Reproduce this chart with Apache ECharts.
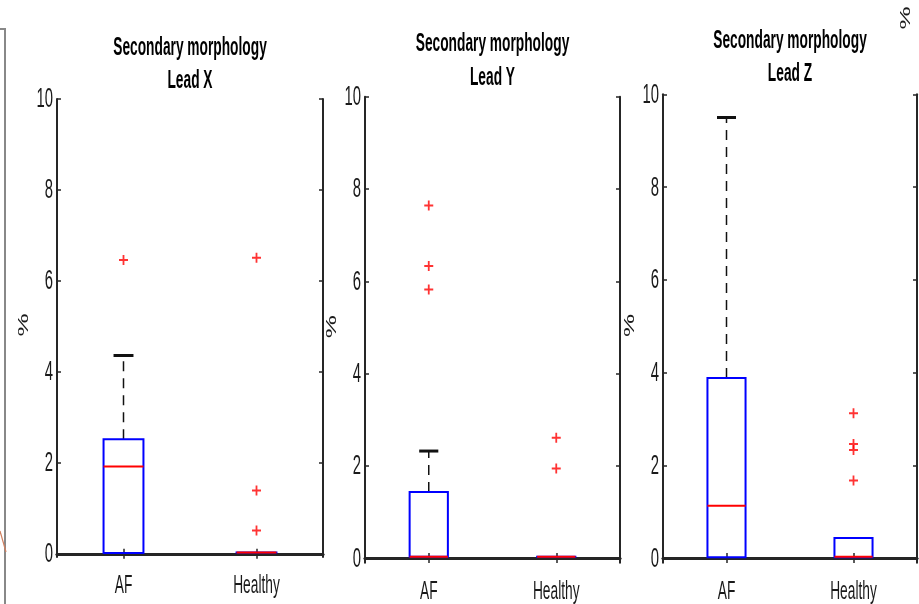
<!DOCTYPE html>
<html><head><meta charset="utf-8">
<script src="https://cdn.jsdelivr.net/npm/echarts@6/dist/echarts.min.js"></script>
<style>html,body{margin:0;padding:0;background:#fff}#c{width:919px;height:604px}</style>
</head><body><div id="c"></div>
<script>
// ---------------- data ----------------
const categories = ['AF', 'Healthy'];
const yTicks = [0, 2, 4, 6, 8, 10];
const titleLine1 = 'Secondary morphology';
const leadNames = ['Lead X', 'Lead Y', 'Lead Z'];
const yLabel = '%';
// box stats: [lower whisker, q1, median, q3, upper whisker]
const leadX_AF = [0, 0.02, 1.92, 2.52, 4.36];
const leadX_Healthy = [0.03, 0.03, 0.03, 0.03, 0.03];
const leadX_AF_outliers = [6.46];
const leadX_Healthy_outliers = [6.51, 1.39, 0.51];
const leadY_AF = [0, 0.03, 0.03, 1.43, 2.32];
const leadY_Healthy = [0.03, 0.03, 0.03, 0.03, 0.03];
const leadY_AF_outliers = [7.64, 6.33, 5.82];
const leadY_Healthy_outliers = [2.61, 1.94];
const leadZ_AF = [0, 0.02, 1.13, 3.88, 9.5];
const leadZ_Healthy = [0, 0.02, 0.03, 0.43, 0.43];
const leadZ_AF_outliers = [];
const leadZ_Healthy_outliers = [3.12, 2.46, 2.33, 1.67];
const yMins = [-0.07, -0.1, -0.1];
const yMax = 10;

// ---------------- layout / style ----------------
const grids = [
  {left: 57, top: 99, width: 266, height: 458},
  {left: 365, top: 96.7, width: 255, height: 466},
  {left: 663, top: 94.3, width: 254, height: 468.4}
];
const titleY = [[47, 80], [43, 77], [40, 73]];
const frame = '#262626';
const textCol = '#1a1a1a';
const FONT = '"Liberation Sans", Arial, Helvetica, sans-serif';
const SQX = 0.55;  // horizontal squeeze of the reference's text

const boxes = [[leadX_AF, leadX_Healthy], [leadY_AF, leadY_Healthy], [leadZ_AF, leadZ_Healthy]];
const outliers = [[leadX_AF_outliers, leadX_Healthy_outliers], [leadY_AF_outliers, leadY_Healthy_outliers], [leadZ_AF_outliers, leadZ_Healthy_outliers]];

function boxRender(params, api) {
  const idx = api.value(0);
  const lo = api.value(1), q1 = api.value(2), med = api.value(3), q3 = api.value(4), hi = api.value(5);
  const band = api.size([1, 0])[0];
  const bw = band * 0.3, cw = bw * 0.5;
  const x = api.coord([idx, 0])[0];
  const y = v => api.coord([idx, v])[1];
  const yLo = y(lo), yQ1 = y(q1), yMed = y(med), yQ3 = y(q3), yHi = y(hi);
  const dash = {stroke: '#111', lineWidth: 1.5, lineDash: [10, 7]};
  const cap = {stroke: '#111', lineWidth: 3};
  const ch = [];
  if (hi - q3 > 0.1) {
    ch.push({type: 'line', shape: {x1: x, y1: yQ3, x2: x, y2: yHi}, style: dash});
    ch.push({type: 'line', shape: {x1: x - cw / 2, y1: yHi, x2: x + cw / 2, y2: yHi}, style: cap});
  }
  if (q1 - lo > 0.1) {
    ch.push({type: 'line', shape: {x1: x, y1: yQ1, x2: x, y2: yLo}, style: dash});
    ch.push({type: 'line', shape: {x1: x - cw / 2, y1: yLo, x2: x + cw / 2, y2: yLo}, style: cap});
  }
  ch.push({type: 'rect', shape: {x: x - bw / 2, y: yQ3, width: bw, height: Math.max(yQ1 - yQ3, 0.01)}, style: {fill: null, stroke: '#0000ff', lineWidth: 2}});
  ch.push({type: 'line', shape: {x1: x - bw / 2, y1: yMed, x2: x + bw / 2, y2: yMed}, style: {stroke: '#ff0000', lineWidth: 2}});
  return {type: 'group', children: ch};
}

function yLabelRender(params, api) {
  const cs = params.coordSys;
  const v = api.value(1);
  const yy = api.coord([0, v])[1];
  return {type: 'text', x: cs.x - 4, y: yy + 1, scaleX: SQX,
    style: {text: String(v), x: 0, y: 0, font: '27px ' + FONT, fill: textCol, align: 'right', verticalAlign: 'middle'}};
}
function xLabelRender(params, api) {
  const cs = params.coordSys;
  const idx = api.value(0);
  const xx = api.coord([idx, 0])[0];
  return {type: 'text', x: xx, y: cs.y + cs.height + 29, scaleX: SQX,
    style: {text: categories[idx], x: 0, y: 0, font: '25px ' + FONT, fill: textCol, align: 'center', verticalAlign: 'middle'}};
}

const xAxes = [], yAxes = [], series = [], graphics = [];
grids.forEach((g, i) => {
  const axLine = w => ({show: true, lineStyle: {color: frame, width: w}});
  xAxes.push({type: 'category', gridIndex: i, data: categories, position: 'bottom', boundaryGap: true,
    axisLine: axLine(3), axisTick: {show: true, inside: true, alignWithLabel: true, length: 5, lineStyle: {color: frame, width: 1.5}},
    axisLabel: {show: false}, splitLine: {show: false}});
  xAxes.push({type: 'category', gridIndex: i, data: categories, position: 'top', boundaryGap: true,
    axisLine: axLine(2.5), axisTick: {show: true, inside: true, alignWithLabel: true, length: 5, lineStyle: {color: frame, width: 1.5}},
    axisLabel: {show: false}, splitLine: {show: false}});
  ['left', 'right'].forEach(pos => {
    yAxes.push({type: 'value', gridIndex: i, position: pos, min: yMins[i], max: yMax, minInterval: 2, maxInterval: 2,
      axisLine: axLine(2), axisTick: {show: true, inside: true, length: 4, customValues: yTicks, lineStyle: {color: frame, width: 1.5}},
      axisLabel: {show: false}, splitLine: {show: false}});
  });
  const xi = 2 * i, yi = 2 * i;
  series.push({type: 'custom', xAxisIndex: xi, yAxisIndex: yi, renderItem: boxRender, clip: false, silent: true,
    encode: {x: 0, y: [1, 2, 3, 4, 5]},
    data: boxes[i].map((b, k) => [k].concat(b))});
  const pts = [];
  outliers[i].forEach((arr, k) => arr.forEach(v => pts.push([k, v])));
  series.push({type: 'scatter', xAxisIndex: xi, yAxisIndex: yi, data: pts, silent: true,
    symbol: 'path://M4,0H6V4H10V6H6V10H4V6H0V4H4Z', symbolSize: [9, 10], itemStyle: {color: '#ff0000'}});
  series.push({type: 'custom', xAxisIndex: xi, yAxisIndex: yi, renderItem: yLabelRender, clip: false, silent: true,
    encode: {x: 0, y: 1}, data: yTicks.map(v => [0, v])});
  series.push({type: 'custom', xAxisIndex: xi, yAxisIndex: yi, renderItem: xLabelRender, clip: false, silent: true,
    encode: {x: 0, y: 1}, data: categories.map((c, k) => [k, 0])});
  // titles
  const cx = g.left + g.width / 2;
  [titleLine1, leadNames[i]].forEach((t, k) => {
    graphics.push({type: 'text', x: cx, y: titleY[i][k] + 1, scaleX: 0.55, silent: true,
      style: {text: t, x: 0, y: 0, font: 'bold 25px ' + FONT, fill: '#000', align: 'center', verticalAlign: 'middle'}});
  });
  // y label
  graphics.push({type: 'text', x: g.left - 33, y: g.top + g.height / 2 - 3, rotation: Math.PI / 2, scaleY: SQX, silent: true,
    style: {text: yLabel, x: 0, y: 0, font: '26px ' + FONT, fill: textCol, align: 'center', verticalAlign: 'middle'}});
});
// fragments of neighbouring panels at the picture's edges
graphics.push({type: 'polyline', silent: true, shape: {points: [[0, 29], [5, 29], [5, 604]]}, style: {stroke: '#888', lineWidth: 2, fill: null}});
graphics.push({type: 'line', silent: true, shape: {x1: 0, y1: 531, x2: 6, y2: 552}, style: {stroke: '#d08060', lineWidth: 1.2}});
graphics.push({type: 'text', x: 906, y: 18, rotation: Math.PI / 2, scaleY: SQX, silent: true,
  style: {text: yLabel, x: 0, y: 0, font: '26px ' + FONT, fill: textCol, align: 'center', verticalAlign: 'middle'}});

const chart = echarts.init(document.getElementById('c'), null, {renderer: 'canvas'});
chart.setOption({
  animation: false,
  backgroundColor: '#fff',
  grid: grids.map(g => Object.assign({containLabel: false}, g)),
  xAxis: xAxes,
  yAxis: yAxes,
  series: series,
  graphic: graphics
});
</script>
</body></html>
